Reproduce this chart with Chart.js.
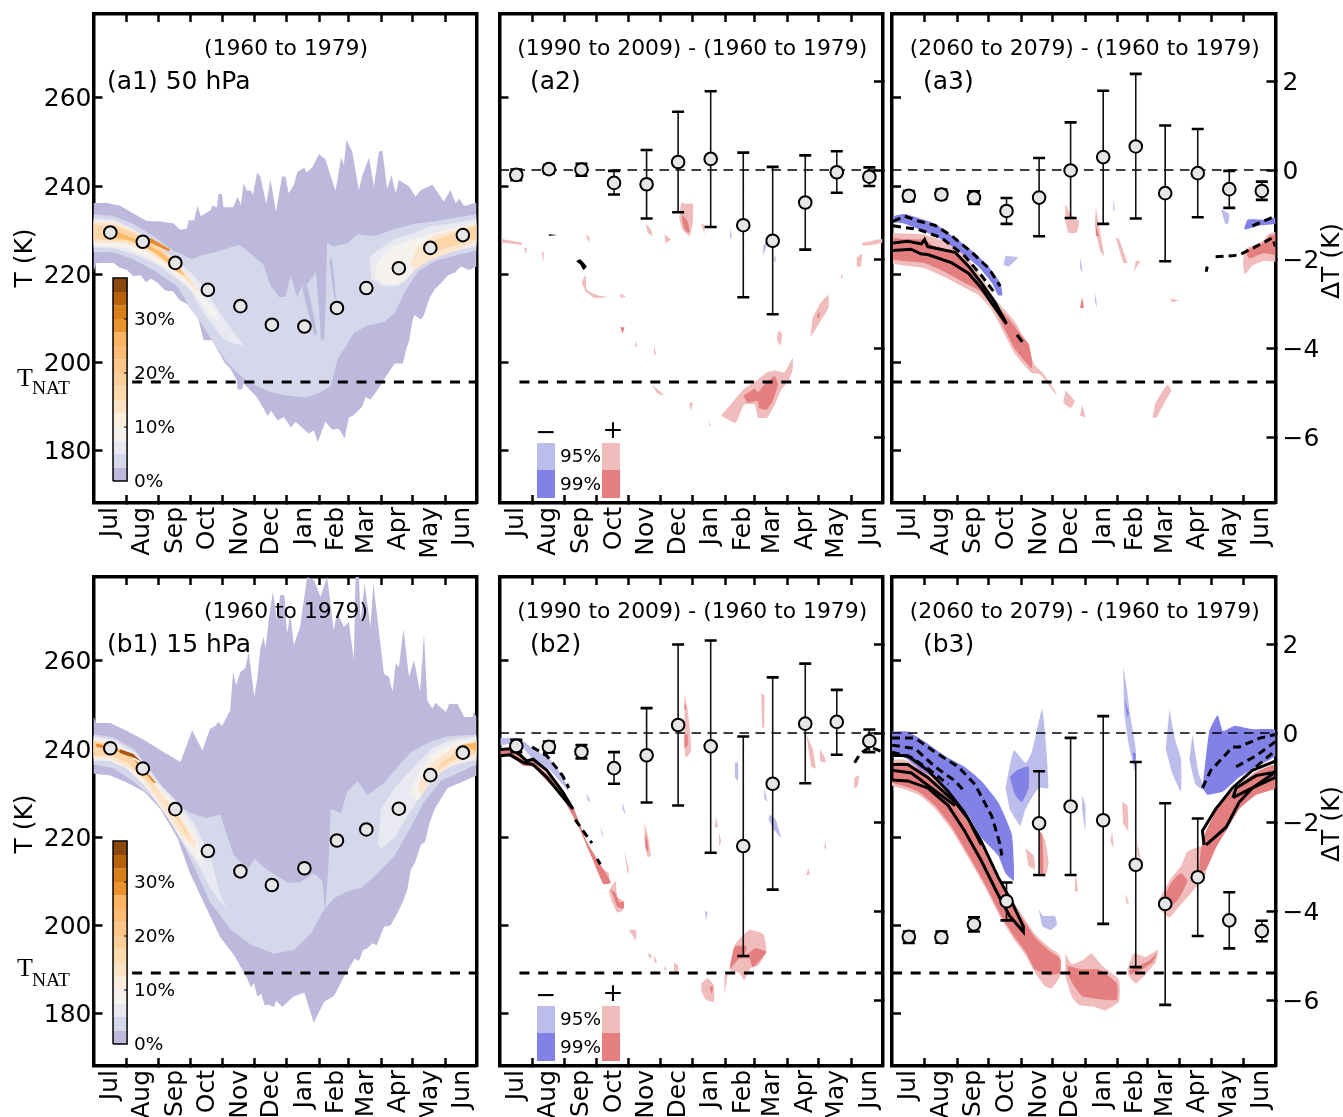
<!DOCTYPE html>
<html>
<head>
<meta charset="utf-8">
<title>T and dT climatology</title>
<script src="https://cdn.jsdelivr.net/npm/chart.js@4/dist/chart.umd.min.js"></script>
<style>
html, body { margin: 0; padding: 0; background: #fff; overflow: hidden; }
canvas { position: absolute; left: 0; top: 0; }
</style>
</head>
<body>
<canvas id="a1"></canvas><canvas id="a2"></canvas><canvas id="a3"></canvas>
<canvas id="b1"></canvas><canvas id="b2"></canvas><canvas id="b3"></canvas>
<script>
// axis values
const months = ['Jul','Aug','Sep','Oct','Nov','Dec','Jan','Feb','Mar','Apr','May','Jun'];
const monthDays = [16,47,78,109,140,170,201,232,260,291,321,352];
const monthEdges = [31,62,92,123,153,184,215,243,274,304,335];
const tTicks = [180,200,220,240,260];
const dTicks = [-6,-4,-2,0,2];
const tnatA = 195.6;
const tnatB = 189.3;

// monthly means and error bars
const a1Mean = [229.5,227.4,222.6,216.5,212.8,208.6,208.2,212.4,216.9,221.4,226.0,228.9];
const b1Mean = [240.2,235.6,226.4,216.9,212.3,209.2,213.0,219.3,221.8,226.5,234.1,239.2];
const a2Mean = [-0.11,0.02,0.01,-0.29,-0.32,0.18,0.25,-1.24,-1.59,-0.73,-0.05,-0.15];
const a2Hi = [0.01,0.11,0.14,-0.02,0.45,1.31,1.77,0.39,0.07,0.33,0.42,0.06];
const a2Lo = [-0.23,-0.07,-0.13,-0.55,-1.09,-0.95,-1.28,-2.86,-3.24,-1.79,-0.51,-0.36];
const a3Mean = [-0.58,-0.55,-0.62,-0.92,-0.62,-0.01,0.29,0.53,-0.52,-0.07,-0.43,-0.47];
const a3Hi = [-0.47,-0.44,-0.48,-0.63,0.27,1.07,1.78,2.16,1.0,0.92,-0.02,-0.26];
const a3Lo = [-0.70,-0.65,-0.76,-1.21,-1.49,-1.08,-1.21,-1.09,-2.05,-1.06,-0.85,-0.67];
const b2Mean = [-0.29,-0.31,-0.42,-0.79,-0.50,0.18,-0.30,-2.54,-1.14,0.21,0.25,-0.18];
const b2Hi = [-0.15,-0.19,-0.27,-0.43,0.56,1.99,2.08,-0.08,1.25,1.56,0.97,0.08];
const b2Lo = [-0.43,-0.44,-0.57,-1.14,-1.56,-1.63,-2.69,-5.01,-3.52,-1.13,-0.49,-0.43];
const b3Mean = [-4.58,-4.59,-4.30,-3.78,-2.03,-1.65,-1.96,-2.96,-3.84,-3.24,-4.21,-4.45];
const b3Hi = [-4.46,-4.46,-4.14,-3.36,-0.86,-0.11,0.38,-0.65,-1.58,-1.92,-3.58,-4.22];
const b3Lo = [-4.72,-4.71,-4.46,-4.21,-3.19,-3.19,-4.29,-5.26,-6.11,-4.56,-4.84,-4.68];

// frequency bands, [day, T]
const a1Top = [[0,236.2],[13,236.2],[25,235.6],[38,233.8],[51,232.1],[64,232],[76,231.6],[82.6,230.1],[89,230.4],[90.6,232.2],[96,232.3],[99,235.5],[102.3,233.2],[112,234.6],[113,235.6],[117.6,235.2],[119.2,238.2],[122.4,238.2],[124,235.2],[133,235.2],[137.4,237.6],[140.6,235.7],[143,240.6],[146.3,239],[150,239],[152,238],[156,243.1],[159,242.2],[164.8,236],[168.6,241.5],[174,234.2],[179.7,242.2],[183,242.2],[186,238.4],[191,240.3],[194,243.1],[201,244.2],[203,243.1],[209,244.4],[214.8,247.2],[221,246.1],[230.7,239],[236,246.5],[238.7,244.8],[241,250.5],[246.6,247.8],[253,239.1],[256,242.2],[262.6,246.5],[267.3,239.9],[272,247.8],[275.3,248],[280,239.3],[284,242.5],[288,238.4],[291,241.4],[300.8,239.9],[307,237.6],[312,239.1],[323,240.3],[334,236.5],[340,239.1],[345.4,236.1],[348.5,237.2],[353.3,235.5],[365,236.3]];
const a1Bot = [[0,220.6],[3,222.6],[19,222.6],[25,221.5],[32,221],[38,219.6],[45,219.8],[50,218.2],[55,219],[61,218.1],[68,216.4],[76,216.1],[82,214.2],[89,213.3],[95,211.4],[99,210.8],[105,205.1],[113,205.1],[121,201.7],[125.6,199.8],[130.4,198.7],[136.7,196],[137.4,193.9],[141.5,193.9],[143,195.3],[154.3,192.6],[162.2,189.6],[166,187.9],[169.2,189.1],[175.6,186.9],[181.3,187.7],[188.3,185.3],[192.5,186.6],[205.2,183.9],[210,184.7],[213.8,182],[221,186.6],[227.5,184.8],[233.9,185],[239.3,182.8],[243.4,187.6],[248.2,188.1],[256,190],[259.4,192.2],[264,191.6],[273.7,194.9],[277,196.2],[287,199.8],[295,199.8],[298,203],[301,205.1],[304,209.5],[306,210.8],[312,209.8],[315,210.8],[320,214.5],[325,216.5],[331,218],[338,219.8],[345,220.5],[350,221.8],[358,221],[365,221.8]];
const a1L2 = [[0,233.6],[19,233.2],[38,231.5],[57,228.7],[76,225.4],[94,223.4],[102,224.2],[121,225.4],[139,226.7],[146,225.4],[156,223.4],[162,222.2],[169,217.3],[177,214.9],[183,214.9],[188,219.8],[194,214.9],[199,217.3],[205,218.1],[212,220.6],[215,212],[217,205.1],[220,205.5],[221.5,214],[222.5,227.1],[229,226.3],[242,227.1],[252,229.1],[268,228.7],[287,230.3],[306,231.5],[325,232],[365,233.6],[365,225.4],[344,224.2],[325,223],[309,220.6],[296,215.7],[287,211.2],[277,209.2],[261,208.4],[248,206.7],[242,204.3],[233,201],[226,194.6],[213,192.9],[201,192.1],[185,192.5],[169,193.3],[153,195],[140,197],[127,200.2],[115,204.3],[102,209.2],[92,212.4],[80,217.3],[57,221],[38,223.4],[19,225],[0,225]];
const a1Streak1 = [[199,217],[205,211],[211,206],[213,206.5],[208,213],[203,218]];
const a1Streak2 = [[225,223],[227,219],[230,214],[231,215],[229,220],[227,224]];
const a1L3Left = [[0,232.8],[19,232.4],[38,230.3],[57,227.5],[76,223.8],[92,220.6],[102,218.1],[115,213.3],[124,210],[134,206.7],[143,203.9],[134,204.3],[124,205.5],[111,209.2],[102,212.4],[92,216.5],[80,218.9],[61,222.2],[38,224.6],[19,225.9],[0,226.1]];
const a1L3Right = [[365,232.6],[341,231.5],[322,231],[306,229.4],[287,228],[271,225.4],[263,223.8],[265,218.9],[277,217.3],[290,217.3],[299,218.9],[309,221.8],[325,224.2],[344,225.3],[365,226.3]];
const a1L4Left = [[0,232.3],[19,232],[38,230.1],[57,227.2],[76,223],[92,219],[105,214.9],[118,211.6],[119,209.5],[110,210.8],[102,214.1],[89,217.8],[70,221.4],[51,223.8],[32,225.9],[0,226.6]];
const a1L4Right = [[365,232],[344,230.5],[322,229.2],[306,228],[285,226.3],[271,223],[268,219.3],[277,217.8],[290,217.8],[299,219.3],[312,222.6],[325,224.6],[344,225.3],[365,226.9]];
const a1L5Left = [[0,232],[22,231.6],[41,229.5],[60,226.7],[80,222.6],[92,219],[103,214.9],[108,212.9],[102,215.3],[89,218.5],[70,222.2],[48,225.5],[29,227.1],[0,227.2]];
const a1L5Right = [[365,231.5],[347,230.3],[325,228.9],[309,226.3],[302,222.6],[306,221],[322,223.4],[344,225.3],[365,227.3]];
const a1L6Left = [[0,231.2],[22,231],[45,228.7],[64,225.9],[80,222.2],[92,218.5],[99,216.5],[89,219],[73,222.2],[51,225.9],[32,227.5],[0,228]];
const a1L6Right = [[365,231],[347,229.8],[325,227.7],[322,225.5],[328,225.5],[347,226.8],[365,228.1]];
const a1L7 = [[19,230],[45,227.5],[64,225.1],[80,221.8],[87,219.8],[80,220.6],[61,224.6],[38,227.5],[19,228.4]];
const a1L8 = [[54,228.3],[73,225.7],[72,225.2],[52,227.4]];

const b1Top = [[0,247.4],[3,245.9],[16,245.9],[32,244.1],[48,242.1],[67,239.3],[83,237.1],[94,244.2],[104,239.7],[111,244.6],[116,245.2],[119,246.2],[122.4,245.2],[130.4,248.8],[133,257.5],[136,254.5],[140,257.5],[144.7,258.3],[148,262],[153.3,251.8],[156.5,256.7],[159,262.8],[162.2,265.4],[164,262.8],[167,269.2],[171,275.6],[175,269.2],[178,274.9],[182,274.9],[184.5,266.2],[187.7,270.4],[191,263.6],[197,267.7],[203.6,279],[210,278.3],[216.4,274.5],[222.7,279.05],[229,267],[232.3,271],[238.7,267.7],[243.4,268.8],[248.2,260.1],[249.8,279.05],[253,279.05],[254.6,269.2],[258.4,277.5],[264,267.7],[266.7,277.5],[277,257.1],[281.7,256.4],[285,253],[288,259.4],[291.2,258.6],[295.4,267.3],[300.8,256.4],[305.5,260.2],[311.3,253],[315,266.2],[318.3,251],[323,249.2],[326,250.5],[335.8,248.4],[339,250.3],[347,250.2],[353.3,247.3],[361.3,247.3],[362.2,248.6],[365,247.3]];
const b1Bot = [[0,234.4],[16,234],[32,232.4],[48,230.4],[64,226.4],[80,219.9],[92,211.9],[108,203.8],[121,197.3],[134,193.3],[146.5,188.1],[150,186],[153,187],[156,184],[160,184.5],[163,182],[167,182],[172,181.5],[174,183],[180,181.6],[191,184],[201,184.8],[210,178],[220,182.8],[229,184],[239,188.5],[245,190.9],[249,192.5],[253,192],[257,194.5],[261,194.9],[266,196],[270,195.5],[277,199.8],[283,200],[290,203],[295,205.5],[299,208],[302.5,212.7],[306,214],[312,218.3],[316,219],[320,223],[325,226.4],[337.5,231.2],[353.5,232.8],[365,234]];
const b1L2 = [[0,243.3],[19,242.7],[38,240.1],[57,234.4],[76,228],[92,225.6],[108,224.4],[121,225.2],[127,220.7],[134,215.9],[146.5,212.7],[154,215.1],[165,212.7],[185,209.8],[197,209.8],[210,211.9],[218,210.2],[221,203],[224,214],[226,226.4],[236,225.6],[242,230.4],[252,232.8],[261,229.6],[277,232.4],[287,235.2],[302.5,239.3],[321.5,241.7],[337.5,242.9],[365,243.3],[365,236.5],[331,232.8],[315,228],[302.5,222.3],[287,215.9],[271,211.9],[255,208.6],[242,207.8],[229,206.2],[218,203],[207,198.1],[191,194.5],[172,193.7],[150,195.7],[131,199],[111,205.4],[95.5,213.5],[80,221.5],[60.5,228],[38,232.8],[19,235.6],[0,236.5]];
const b1L3Left = [[0,242.9],[19,242.1],[41.5,238.9],[60.5,232.8],[80,228],[96,223.1],[111,215.9],[121,207],[127,204.2],[121,205.4],[111,208.6],[98.5,214.3],[86,218.3],[70,224.8],[51,231.5],[32,235.6],[16,237.3],[0,237.3]];
const b1L3Right = [[365,242.9],[341,242.1],[322,240.1],[302.5,235.2],[287,231.2],[274,226.4],[271,218.3],[275,217.5],[287,219.9],[299,224.8],[312,229.6],[325,234],[344,236.5],[365,237.5]];
const b1L4Left = [[0,242.5],[19,241.7],[41.5,238.1],[64,231.2],[83,226.4],[99,219.9],[105,213.9],[99,215.1],[86,219.1],[70,224.8],[48,232],[32,235.6],[16,237.3],[0,237.8]];
const b1L4Right = [[365,242.5],[341,241.3],[322,238.9],[306,232.8],[301,229.6],[309,228.4],[322,232.8],[338,236],[365,238]];
const b1L5Left = [[0,242.3],[19,241.3],[41.5,237.3],[64,230.4],[83,224.8],[97.5,219.1],[96,217.5],[83,220.7],[67,226.4],[48,232.8],[32,236],[16,237.7],[0,238.1]];
const b1L5Right = [[365,242.1],[344,240.5],[322,236.9],[309,232],[312,229.6],[325,233.6],[341,236.5],[365,238.5]];
const b1L6Left = [[0,241.7],[19,240.9],[41.5,236.9],[64,229.6],[80,224],[92,219.1],[89,221.5],[73,227.2],[51,232.8],[32,236.9],[16,238.5],[0,238.5]];
const b1L6Right = [[365,241.7],[351,240.1],[331,236.9],[328,235.2],[341,237.3],[365,239.3]];
const b1L7Left = [[2,241.3],[19,240.5],[38,237.7],[57,232.4],[60,232.4],[41,237.3],[22,239.7],[3,240.5]];
const b1L7Right = [[351,241],[365,241.5],[365,239.5]];
const b1L8 = [[25,240],[38,238.9],[45,237.3],[38,238.1],[25,239.2]];

// colour bar
const cbLevels = [0,2.5,5,7.5,10,12.5,15,17.5,20,22.5,25,27.5,30,32.5,35,37.6];
const cbColors = ['#bcb9dc','#d6d7ea','#e9e9f1','#f5f2ee','#fbeedf','#fde3c5','#fed9ac','#fdcf98','#fdc587','#fdbb74','#fdb362','#e9922e','#d97f17','#b9600a','#8a480d'];
const cbTicks = [0,10,20,30];

// significance patches, [day, T]
const a2Light = [
 [[211,188],[220,190.5],[233,194.1],[246,196.2],[255,197.8],[262,198.2],[271,197.8],[279,201],[279,198.6],[276,196.2],[268,193.7],[262,190.5],[255,187.6],[246,187.6],[243,190.5],[233,190.5],[225,186.4],[220,186.8],[214,187.6]],
 [[173,236.4],[176,236],[184,236],[184,232],[181,228.7],[174,230.3],[171,232.8]],
 [[296,205.9],[298,210],[305,213.3],[313,215.3],[313,212.4],[305,209.2],[300,207.2]],
 [[2,228],[21,227.2],[21,226.7],[2,227.2]],
 [[23,225.9],[26,225.9],[25.5,224.6]],
 [[40,225],[42,225],[42,222.6]],
 [[82,229.1],[86,228.3],[85,227.1]],
 [[78,218.1],[82,219.8],[83,216.5],[93,215.3],[103,214.9],[90,214.7],[82,216.1]],
 [[115,215.7],[120,214.9],[115,214.7]],
 [[139,231.5],[144,230.3],[145.5,228.7],[141,229.5]],
 [[157,229.1],[163,227.9],[158,227]],
 [[192,231.5],[195.5,231.1],[195,229.1]],
 [[340,223.8],[345,224.6],[344,221.8],[340,221.8]],
 [[325,219.8],[327,219.8],[325,218.8]],
 [[345,227.1],[364,228],[364,227.1],[346,226.4]],
 [[265,207.2],[269,206.7],[267.5,203.9],[264,205.1]],
 [[147,203.9],[149,201.9],[147,201.9]],
 [[130,205.1],[131,203.5],[129,203.7]],
 [[145.5,195],[155,193],[156,192.5],[150,193]],
 [[180.5,190.9],[184,190.9],[182,188.9]],
 [[199,186.8],[201,185.6],[199.5,185.6]]
];
const a2Dark = [
 [[232,192.5],[243,194.1],[246,193.3],[252,195],[262,197],[265,195],[260,191.3],[254,189.3],[247,189.7],[246,191.3],[236,190.9]],
 [[174,233.6],[179,232],[181,229.5],[177,229.9],[174,232]],
 [[302,210.4],[305,211.6],[304,210]],
 [[115,208],[119,208],[117,206.6]]
];
const a2Blue = [
 [[251,226.3],[255,228.3],[254,226.3],[251,224.2]],
 [[262,224.6],[263,223],[261,223]],
 [[220,230.3],[221,227.9],[219,228.7]]
];
const a2Black = [
 [[47,229.1],[55,228.9],[47,228.7]],
 [[73,223],[77,223.4],[83,221.8],[80,221],[77,222.2]]
];

const a3Light = [
 [[1,229.4],[31,229],[60,226.5],[73,223.4],[85,219.4],[98,214.5],[111,211],[120,208.2],[136,199.4],[143,197.8],[155,193.7],[157,192.5],[149,195],[141,197.4],[133,197.6],[117,202],[108,206],[95,212],[82,215.4],[69,217],[50,219.4],[31,221.4],[12,222],[1,222.4]],
 [[165,236],[170,233.6],[178,232],[176,229.5],[168,229.5],[165,232]],
 [[194,235.2],[197,231.1],[202,224.2],[198,225.4],[193,231.1]],
 [[213,228.3],[216,228],[224,222.6],[220,222.6]],
 [[232,223],[236,223],[230,220.6]],
 [[165,193.7],[174,191.3],[170,189.7],[163,190.9]],
 [[181,190.5],[184,187.6],[179,188]],
 [[248,187.6],[251,190.9],[262,195],[266,193.7],[262,192.1],[252,187.6]],
 [[265,214.5],[273,214.1],[266,213.7]],
 [[365,229.6],[359,229.2],[353,227.6],[346.5,226.8],[337,225.9],[334,223],[336,220],[343,222],[353,223],[365,222.8]]
];
const a3Dark = [
 [[1,228.3],[12,228],[25,227.9],[31,227.9],[41,226.3],[57,225.4],[73,222.2],[85,218.1],[98,213.3],[111,210],[120,207.2],[130,204.3],[133,201],[133,198.6],[127,200.2],[117,203.1],[108,207.2],[95,213.3],[82,216.5],[69,218.1],[50,220.6],[31,222.6],[12,223],[1,223.4]],
 [[365,229.1],[359,228.7],[353,227.1],[346.5,226.3],[337,225.4],[340,223.6],[353,224.8],[365,224.4]],
 [[194,231.1],[197,228.7],[194,228.7]],
 [[181,214.9],[182.5,212.4],[179,212.4]]
];
const a3BlueDark = [
 [[1,233.2],[12,233.7],[25,232.8],[41,231.5],[60,228.3],[76,225.4],[92,221.8],[103,218.1],[105,215.3],[101,215.3],[95,218.1],[82,221.8],[63,225.4],[44,228.3],[25,230.3],[12,231.5],[1,231.8]],
 [[335,230.3],[338.5,232.4],[353,232.4],[365,232.8],[365,231.5],[350,231.1],[337,230.2]]
];
const a3BlueLight = [
 [[179,223.8],[181.5,220.6],[179,221.4]],
 [[211,237.2],[212,234.4],[210.5,234.4]],
 [[313,234.8],[321,233.6],[320,231.5],[317,231.5]],
 [[108,224.2],[120,223.8],[111,221.8],[106,222.2]],
 [[194,215.7],[195,212.4],[193,214]]
];
const a3Solid = [[1,227.1],[15,227.5],[28,226.9],[31,227.9],[34,226.3],[60,225],[73,221.8],[85,218.1],[98,213.7],[109,208.8],[98,212.4],[85,216.9],[73,220.2],[57,222.6],[34,224.5],[28,224.6],[18,225.7],[1,225.4]];
const a3Dash1 = [[1,232],[12,233.2],[25,232.1],[41,231.1],[57,228.7],[76,225],[92,221.4],[103,217.3]];
const a3Dash2 = [[1,231],[25,230.2],[47,228.3],[69,224.2],[85,219.8],[98,215.7]];
const a3Dash3 = [[343,231],[351,231.8],[362,232.9]];
const a3Dash4 = [[308,224],[324,224.2],[331,224.5],[343,225.9],[353,227.1],[362,228.3],[365,226.3]];
const a3Dash5 = [[299,220.6],[300,221.8]];
const a3Dash6 = [[119,206.3],[124,204.7]];

const b2Light = [
 [[138,223.1],[141,220.7],[144,215.9],[141,215.5],[138,219.1]],
 [[176,252.6],[179,249],[182,242.5],[182,239.3],[177,238.1],[176,243.3]],
 [[249,252.6],[252,252.2],[252,244.9],[250,244.9]],
 [[219,190.9],[224,195.7],[238,199],[251,198.1],[254,194.1],[246,190.9],[239.5,190.5],[233,187.7],[228,189.3],[220,189.7]],
 [[99,212.7],[104,211.9],[104,209.4],[99,209.8]],
 [[104,207.8],[110.5,210.2],[112,206.6],[118.5,205.4],[117,203.4],[112,203],[107,205.4]],
 [[123,199],[130,199],[130,196.5]],
 [[141,193.7],[145,193.3],[143,192.5]],
 [[147,193.3],[150,191.7],[147,191.7]],
 [[166,191.7],[170,190.9],[169,189.3],[166,189.7]],
 [[157,190.9],[159,190.1],[157,189.7]],
 [[192,186.9],[198,188.1],[204,186.5],[204,182.8],[196.5,183.2],[192,185.2]],
 [[214,188.9],[217,188.9],[214,184.4]],
 [[292,243.3],[298,240.1],[301,235.6],[297,236],[294,240.1]],
 [[305,240.1],[310,237.9],[310,236.9],[305,237.3]],
 [[338,233.6],[342,234],[341,231.6],[337,231.2]],
 [[206,224.8],[208,222.3],[205,222.3]],
 [[209,221.1],[211,219.1],[209,217.9]],
 [[310,219.1],[311,217.5],[309,217.5]],
 [[294,213.1],[295,211.5],[292,211.5]],
 [[118.5,217.5],[123,212.7],[122,211.5]]
];
const b2Dark = [
 [[1,239.9],[10,239.7],[23,237.7],[32,237.3],[45,234.4],[58,231.2],[71,226.4],[83,219.1],[99,212.7],[106,209.8],[99,209.4],[87,215.9],[74,223.1],[58,229.6],[45,232.8],[32,236],[23,236.2],[10,238.5],[1,238.5]],
 [[138.5,220.7],[141,219.1],[141.5,216.7],[139,217.5]],
 [[176,243.3],[179,243.3],[179,240.9],[176,240.1]],
 [[176,250.6],[178,249],[176,249]],
 [[219,190.1],[224,195.3],[235,195.3],[233,192.9],[243,194.9],[254,194.1],[241,190.5],[238,192.5],[228,192.5],[222,190.9]],
 [[106,208.2],[110.5,207.4],[114,205.4],[118.5,205.4],[118,203.8],[112,204.2]],
 [[200,186.1],[203,186.1],[202,184.4]]
];
const b2BlueLight = [
 [[1,242.5],[18,242.5],[32,240.1],[48,237.7],[61,233.6],[66,230.4],[60,232],[48,235.2],[32,237.7],[18,241.3],[1,240.9]],
 [[224,236.9],[227,236.9],[227,232.8],[224,233.6]],
 [[257,225.2],[263,224],[268,219.9],[262,221.5],[256,224]],
 [[252,231.2],[255,228],[252,228.8]],
 [[83,230],[87,228],[84,228.4]],
 [[117,228],[120,225.2],[117,226.4]],
 [[96,222.7],[99,219.9],[97,220.7]],
 [[195.5,203.4],[198,203],[196.5,201]]
];
const b2Solid = [[1,239.9],[10,240.1],[20,238.6],[26,237.3],[32,237.7],[45,235.2],[60,230.4],[70,226.4],[60,229.2],[45,233.6],[32,236.5],[23,236.9],[10,238.7],[1,238.5]];
const b2Dash1 = [[72,224],[82,220.7],[88,218.7]];
const b2Dash2 = [[93,215.1],[96,213.9]];
const b2Dash3 = [[31,240.5],[45,238.5],[60,234],[66,231.2]];
const b2Dash4 = [[338,236.9],[343,238.9],[352.5,240.5],[365,239.3]];

const b3Light = [
 [[165,193.7],[171,191.3],[181,192.1],[190,193.7],[200,190.9],[216,187.7],[216,182.8],[203,180.8],[192,181.6],[178,182],[171,184],[165,188.5]],
 [[224,190.1],[230,193.7],[241,192.9],[253,194.5],[251,191.7],[241,188.9],[232,186.9],[225.5,188.5]],
 [[253,205.4],[264,210.2],[275,213.5],[281,216.7],[294,217.9],[299,211.9],[286,207.8],[273,204.2],[264,201.8],[256,203.4]],
 [[143,220.7],[146,219.1],[149,214.3],[146,211],[139.5,211.9]],
 [[127,217.5],[135,215.9],[136,212.7],[130,213.5]],
 [[219,228],[224,227.2],[225,221.5],[220,223.1]],
 [[209.5,221.5],[211,217.5],[208,219.1]],
 [[233.5,219.1],[236.5,215.1],[233.5,215.9]],
 [[174.5,211.9],[177,207.8],[174,207.8]],
 [[222,207.4],[225.5,205],[223,205]],
 [[0,237.6],[12,237.6],[28,235.9],[44,232.7],[60,227.9],[73,223.8],[85,219],[101,210.9],[114,206.1],[127,201.3],[136,198.1],[149,195.2],[160,193.2],[160,188.6],[152,185.8],[146,186.2],[136,189.4],[127,193.4],[117,196.6],[104,201.5],[88.5,208.7],[73,215.2],[57,221.6],[41,226.5],[25,229.7],[12,230.9],[0,231.7]]
];
const b3Dark = [
 [[0,236.9],[12,236.9],[28,235.2],[44,232],[60,227.2],[73,223.1],[85,218.3],[101,210.2],[114,205.4],[127,200.6],[136,197.4],[149,194.5],[160,192.5],[160,189.3],[149,188.9],[136,190.1],[127,194.1],[117,197.3],[104,202.2],[88.5,209.4],[73,215.9],[57,222.3],[41,227.2],[25,230.4],[12,231.6],[0,232.4]],
 [[167,190.9],[181,190.1],[197,190.1],[214,186.9],[214,183.2],[203,183.2],[190,183.6],[181,184],[173,186.5],[167.5,188.9]],
 [[225.5,189.7],[235,190.9],[245,192.1],[252,193.7],[248,191.7],[238,190.1],[227,188.9]],
 [[256,205.4],[267,210.2],[275,211.9],[281,210.2],[273,206.2],[264,203.8]],
 [[294,217.5],[299,221.5],[311.5,227.2],[330.5,232],[346.5,234.8],[365,236.5],[365,231.2],[346.5,229.6],[330.5,226.4],[318,221.5],[308,217.5],[299,212.7],[292,211.9]],
 [[140,221.5],[143,220.7],[144,211.9],[141,211.9]]
];
const b3BlueDark = [
 [[0,244],[15,244],[31,241.7],[50,238.5],[69,236],[85,232.8],[101,228],[114,220.7],[116,210.2],[108,211.9],[101,215.9],[85,219.9],[73,224.8],[60,228],[44,232.8],[28,235.2],[12,238.1],[0,238.5]],
 [[295.5,231.2],[302,244.1],[310,247.7],[315,244.1],[326,245.3],[343,244.5],[365,244.3],[365,238.5],[346.5,236],[330.5,233.6],[315,230.4],[300,229.6]],
 [[112,233.6],[119,235.2],[130,236],[130,231.2],[123.5,228],[117,229.6]],
 [[221,251.4],[225.5,248.1],[224,247.3]],
 [[229,239.3],[232,238.9],[231,236]]
];
const b3BlueLight = [
 [[108,231.2],[116,239.7],[127,236.9],[133,239.3],[143,249],[149,231.2],[139.5,231.2],[127,226.4],[122,222.7],[112,226.4]],
 [[139.5,203.8],[144,202.2],[155,202.2],[157,200.2],[151,199],[143,199.8]],
 [[220,258.6],[223,254.6],[227,247.3],[232,240.1],[232,234.4],[225.5,240.9],[221,248.1]],
 [[181,229.6],[184,227.2],[184,221.5],[181,226.4]],
 [[264,249],[270,241.7],[275,237.7],[275,230.4],[267,234.4],[260.5,240.1]],
 [[286,243.3],[292,234.4],[299,230.4],[289,232],[283,237.7]]
];
const b3Solid1 = [[0,238.6],[15,238.5],[34,235.2],[53.5,230.4],[69,225.6],[85,219.1],[101,211],[114,205.4],[125,199.8],[125,198.6],[112,202.2],[101,207],[85,214.7],[69,221.5],[53.5,227.2],[34,231.2],[15,232.8],[0,233],[0,238.6]];
const b3Solid2 = [[0,235.2],[18.5,234.6],[37.5,231.2],[60,227.2]];
const b3Solid3 = [[0,236.5],[15,236.5],[34,233.6],[60,228],[73,224],[85,218.3]];
const b3Solid4 = [[297,218.3],[295.5,221.5],[308,226.4],[324,231.2],[343,235.2],[365,237.3],[365,233.6],[343,231.2],[330.5,228],[318,222.3],[299,218.3]];
const b3Solid5 = [[324.5,229],[327.5,231.2],[346.5,234],[365,234.8],[343,231.2],[324.5,229]];
const b3Dash1 = [[0,242.5],[22,242.5],[41,239.3],[63,236],[79,232],[95,224.8],[103,218.3],[104.5,215.9]];
const b3Dash2 = [[0,240.9],[22,240.1],[41,236],[60,232.8],[69,230.4]];
const b3Dash3 = [[0,239.3],[18.5,238.1],[34,235.6],[53.5,232]];
const b3Dash4 = [[295.5,231.2],[303.5,235.2],[315,238.1],[324,240.5],[330.5,240.5],[350,242.5],[365,243.3]];
const b3Dash5 = [[327.5,236],[346.5,238.5],[365,241.7]];
const b3Dash6 = [[346.5,236],[365,239.7]];

const LIGHT_RED = '#f0bcbc';
const DARK_RED = '#e57f7f';
const LIGHT_BLUE = '#bdbdec';
const DARK_BLUE = '#8282e6';
const bandColors = ['#bcb9dc','#d6d7ea','#e9e9f1','#f5f2ee','#fde6cd','#fdd5a6','#fdb965','#e68a2a','#a8550f'];

const colLeft = [93.5,499.5,892];
const colRight = [476.5,883,1275.5];
const rowTop = [14,577];
const rowBottom = [503,1066];
const FONT = '"DejaVu Sans"';
const MONTH_ROOM = 55;

function pts(list){
    return list.map(p => ({x: p[0], y: p[1]}));
}

function shape(list, color, tension){
    return {
        data: pts(list),
        xAxisID: 'x',
        yAxisID: 'yT',
        fill: 'shape',
        backgroundColor: color,
        borderColor: color,
        borderWidth: 0,
        pointRadius: 0,
        tension: tension === undefined ? 0.0001 : tension
    };
}

function contour(list, dashed){
    return {
        data: pts(list),
        xAxisID: 'x',
        yAxisID: 'yT',
        fill: false,
        borderColor: '#000',
        borderWidth: 3,
        borderDash: dashed ? [8,5] : [],
        pointRadius: 0,
        tension: 0
    };
}

function hline(x0, value, axis, width, dash){
    return {
        data: [{x: x0, y: value}, {x: 365, y: value}],
        xAxisID: 'x',
        yAxisID: axis,
        fill: false,
        borderColor: '#000',
        borderWidth: width,
        borderDash: dash,
        pointRadius: 0
    };
}

function meanDots(values, axis){
    return {
        data: values.map((v,i) => ({x: monthDays[i], y: v})),
        xAxisID: 'x',
        yAxisID: axis,
        showLine: false,
        pointRadius: 6.3,
        pointBorderWidth: 2,
        pointBackgroundColor: '#e6e6e6',
        pointBorderColor: '#000'
    };
}

function errorBars(hi, lo){
    const data = [];
    hi.forEach((h,i) => {
        data.push({x: monthDays[i], y: lo[i]}, {x: monthDays[i], y: h}, {x: NaN, y: NaN});
    });
    return {
        data: data,
        xAxisID: 'x',
        yAxisID: 'yD',
        fill: false,
        borderColor: '#111',
        borderWidth: 1.6,
        pointStyle: 'line',
        pointRadius: 6,
        pointBorderWidth: 2.6,
        pointBorderColor: '#000',
        tension: 0
    };
}

function colorBar(){
    const list = [];
    cbColors.forEach((c,i) => {
        const d = shape([[18.6,cbLevels[i]],[32,cbLevels[i]],[32,cbLevels[i+1]],[18.6,cbLevels[i+1]]], c);
        d.yAxisID = 'yCb';
        list.push(d);
    });
    const frame = contour([[18.6,0],[32,0],[32,37.6],[18.6,37.6],[18.6,0]], false);
    frame.yAxisID = 'yCb';
    frame.borderWidth = 1.5;
    list.push(frame);
    return list;
}

// the layout must not grow the plot area for half labels
function noPadding(s){
    s.paddingTop = 0;
    s.paddingBottom = 0;
    s.paddingLeft = 0;
    s.paddingRight = 0;
}

// x ticks on a linear day axis, tick marks point inwards
function xEdgeAxis(position){
    return {
        type: 'linear', position: position, min: 0, max: 365, weight: 0,
        afterBuildTicks: s => { s.ticks = monthEdges.map(v => ({value: v})); },
        afterFit: s => { s.height = 0; noPadding(s); },
        ticks: {display: false, autoSkip: false},
        grid: {drawOnChartArea: false, tickLength: -8, tickWidth: 2.5, tickColor: '#000'},
        border: {display: true, width: 3.5, color: '#000'}
    };
}

function xLabelAxis(){
    return {
        type: 'linear', position: 'bottom', min: 0, max: 365, weight: 1,
        afterBuildTicks: s => { s.ticks = monthDays.map(v => ({value: v})); },
        afterFit: s => { s.height = MONTH_ROOM; noPadding(s); },
        ticks: {
            autoSkip: false, minRotation: 90, maxRotation: 90, padding: 4,
            color: '#000', font: {family: FONT, size: 25},
            callback: v => months[monthDays.indexOf(v)]
        },
        grid: {display: false, drawTicks: false},
        border: {display: false}
    };
}

function yAxis(position, min, max, values, showTicks, showLabels, room, pad, labelFmt){
    return {
        type: 'linear', position: position, min: min, max: max,
        afterBuildTicks: s => { s.ticks = showTicks ? values.map(v => ({value: v})) : []; },
        afterFit: s => {
            s.width = room;
            noPadding(s);
            // labels sit 2px lower than canvas 'middle' puts them
            if (!s._nudged) {
                const orig = s._computeLabelItems;
                s._computeLabelItems = function(area){
                    const items = orig.call(this, area);
                    items.forEach(it => { it.textOffset += 2; });
                    return items;
                };
                s._nudged = true;
            }
        },
        ticks: {
            display: showLabels, autoSkip: false, padding: pad, color: '#000',
            font: {family: FONT, size: 25}, callback: labelFmt
        },
        grid: {drawOnChartArea: false, drawTicks: showTicks, tickLength: -9, tickWidth: 2.5, tickColor: '#000'},
        border: {display: true, width: 3.5, color: '#000'}
    };
}

function drawText(ctx, t, x, y, size, align, family, rot){
    ctx.save();
    ctx.fillStyle = '#000';
    ctx.font = size + 'px ' + (family || FONT);
    ctx.textAlign = align || 'left';
    ctx.textBaseline = 'middle';
    ctx.translate(x, y);
    if (rot) ctx.rotate(rot);
    ctx.fillText(t, 0, 0);
    ctx.restore();
}

function makePanel(id, col, row, datasets, title, label, labelX, hasCb, hasLegend, tnat){

    const L = colLeft[col], R = colRight[col], T = rowTop[row], B = rowBottom[row];
    const total = datasets.length;
    datasets.forEach((d,i) => { d.order = total - i; });

    const roomL = col === 0 ? 90 : 0;
    const roomR = col === 2 ? 60 : 0;

    const scales = {
        x: xEdgeAxis('bottom'),
        xTop: xEdgeAxis('top'),
        xMonths: xLabelAxis(),
        yT: yAxis('left', 168.2, 279, tTicks, true, col === 0, roomL, 11, v => v),
        yD: yAxis('right', -7.483, 3.506, dTicks, col > 0, col === 2, roomR, 16, v => String(v).replace('-', '\u2212'))
    };
    if (hasCb) {
        scales.yCb = {type: 'linear', display: false, min: -4.07, max: 86.48};
    }

    const extras = {
        id: 'extras',
        afterDraw(chart){
            const ctx = chart.ctx;
            const dy = T - 14;
            drawText(ctx, title, (L + R) / 2 + 1, 49 + dy, 21.85, 'center');
            drawText(ctx, label, labelX, 82.5 + dy, 25, 'left');
            if (hasCb) {
                const y = chart.scales.yCb;
                const xLeft = chart.scales.x.getPixelForValue(32);
                cbTicks.forEach(v => {
                    const py = y.getPixelForValue(v);
                    if (v > 0) {
                        ctx.fillStyle = '#000';
                        ctx.fillRect(xLeft - 3, py - 0.5, 3, 1);
                    }
                    drawText(ctx, v + '%', xLeft + 7, py + 1, 18.5, 'left');
                });
                drawText(ctx, 'T (K)', 25, 258 + dy + (row ? 3 : 0), 25, 'center', FONT, -Math.PI / 2);
                const py = chart.scales.yT.getPixelForValue(tnat);
                drawText(ctx, 'T', 17, py - 3 + (row ? -1 : 0), 26, 'left', '"Liberation Serif"');
                drawText(ctx, 'NAT', 32, py + 7 + (row ? 1 : 0), 19.5, 'left', '"Liberation Serif"');
            }
            if (col === 2) {
                drawText(ctx, '\u0394T (K)', 1332, 261 + dy, 25, 'center', FONT, -Math.PI / 2);
            }
            if (hasLegend) {
                ctx.fillStyle = LIGHT_BLUE; ctx.fillRect(537, 443 + dy, 18, 27);
                ctx.fillStyle = DARK_BLUE; ctx.fillRect(537, 470 + dy, 18, 28);
                ctx.fillStyle = LIGHT_RED; ctx.fillRect(602, 443 + dy, 18, 27);
                ctx.fillStyle = DARK_RED; ctx.fillRect(602, 470 + dy, 18, 28);
                drawText(ctx, '\u2212', 546, 433 + dy, 25, 'center');
                drawText(ctx, '+', 613, 431 + dy, 25, 'center');
                drawText(ctx, '95%', 560, 457 + dy, 18.5, 'left');
                drawText(ctx, '99%', 560, 485 + dy, 18.5, 'left');
            }
        }
    };

    return new Chart(document.getElementById(id), {
        type: 'line',
        data: {datasets: datasets},
        plugins: [extras],
        options: {
            responsive: false,
            animation: false,
            layout: {padding: {left: L - roomL, right: 1343 - R - roomR, top: T, bottom: 1117 - B - MONTH_ROOM}},
            plugins: {legend: {display: false}, tooltip: {enabled: false}},
            scales: scales
        }
    });

}

function bandSets(list){
    return list.map(b => shape(b[0], bandColors[b[1]]));
}

function blobs(list, color){
    return list.map(p => shape(p, color, 0.15));
}

function main(){

    document.querySelectorAll('canvas').forEach(c => { c.width = 1343; c.height = 1117; });

    const a1Ring = a1Top.concat(a1Bot.slice().reverse());
    const b1Ring = b1Top.concat(b1Bot.slice().reverse());

    makePanel('a1', 0, 0, [].concat(
        bandSets([[a1Ring,0],[a1L2,1],[a1Streak1,0],[a1Streak2,0],[a1L3Left,2],[a1L3Right,2],[a1L4Left,3],[a1L4Right,3],[a1L5Left,4],[a1L5Right,4],[a1L6Left,5],[a1L6Right,5],[a1L7,6],[a1L8,7]]),
        [hline(19, tnatA, 'yT', 3, [10,8.7]), meanDots(a1Mean, 'yT')],
        colorBar()
    ), '(1960 to 1979)', '(a1) 50 hPa', 107, true, false, tnatA);

    makePanel('a2', 1, 0, [].concat(
        blobs(a2Blue, LIGHT_BLUE), blobs(a2Light, LIGHT_RED), blobs(a2Dark, DARK_RED), blobs(a2Black, '#000'),
        [hline(0, 0, 'yD', 1.5, [9.5,6.5]), hline(19, tnatA, 'yT', 3, [10,8.7]), errorBars(a2Hi, a2Lo), meanDots(a2Mean, 'yD')]
    ), '(1990 to 2009) - (1960 to 1979)', '(a2)', 530, false, true);

    makePanel('a3', 2, 0, [].concat(
        blobs(a3Light, LIGHT_RED), blobs(a3Dark, DARK_RED), blobs(a3BlueLight, LIGHT_BLUE), blobs(a3BlueDark, DARK_BLUE),
        [contour(a3Solid,false), contour(a3Dash1,true), contour(a3Dash2,true), contour(a3Dash3,true), contour(a3Dash4,true), contour(a3Dash5,false), contour(a3Dash6,false)],
        [hline(0, 0, 'yD', 1.5, [9.5,6.5]), hline(0, tnatA, 'yT', 3, [10,8.7]), errorBars(a3Hi, a3Lo), meanDots(a3Mean, 'yD')]
    ), '(2060 to 2079) - (1960 to 1979)', '(a3)', 923, false, false);

    makePanel('b1', 0, 1, [].concat(
        bandSets([[b1Ring,0],[b1L2,1],[b1L3Left,2],[b1L3Right,2],[b1L4Left,3],[b1L4Right,3],[b1L5Left,4],[b1L5Right,4],[b1L6Left,5],[b1L6Right,5],[b1L7Left,7],[b1L7Right,6],[b1L8,8]]),
        [hline(19, tnatB, 'yT', 3, [10,8.7]), meanDots(b1Mean, 'yT')],
        colorBar()
    ), '(1960 to 1979)', '(b1) 15 hPa', 107, true, false, tnatB);

    makePanel('b2', 1, 1, [].concat(
        blobs(b2BlueLight, LIGHT_BLUE), blobs(b2Light, LIGHT_RED), blobs(b2Dark, DARK_RED),
        [contour(b2Solid,false), contour(b2Dash1,true), contour(b2Dash2,true), contour(b2Dash3,true), contour(b2Dash4,true)],
        [hline(0, 0, 'yD', 1.5, [9.5,6.5]), hline(19, tnatB, 'yT', 3, [10,8.7]), errorBars(b2Hi, b2Lo), meanDots(b2Mean, 'yD')]
    ), '(1990 to 2009) - (1960 to 1979)', '(b2)', 530, false, true);

    makePanel('b3', 2, 1, [].concat(
        blobs(b3Light, LIGHT_RED), blobs(b3Dark, DARK_RED), blobs(b3BlueLight, LIGHT_BLUE), blobs(b3BlueDark, DARK_BLUE),
        [contour(b3Solid1,false), contour(b3Solid2,false), contour(b3Solid3,false), contour(b3Solid4,false), contour(b3Solid5,false),
         contour(b3Dash1,true), contour(b3Dash2,true), contour(b3Dash3,true), contour(b3Dash4,true), contour(b3Dash5,true), contour(b3Dash6,true)],
        [hline(0, 0, 'yD', 1.5, [9.5,6.5]), hline(0, tnatB, 'yT', 3, [10,8.7]), errorBars(b3Hi, b3Lo), meanDots(b3Mean, 'yD')]
    ), '(2060 to 2079) - (1960 to 1979)', '(b3)', 923, false, false);

}

main();
</script>
</body>
</html>
